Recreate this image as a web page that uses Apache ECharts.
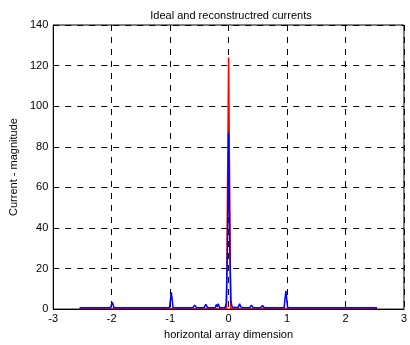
<!DOCTYPE html>
<html>
<head>
<meta charset="utf-8">
<script src="https://cdn.jsdelivr.net/npm/echarts@6/dist/echarts.min.js"></script>
<style>
  html, body { margin: 0; padding: 0; background: #fff; }
  #chart { width: 410px; height: 345px; }
</style>
</head>
<body>
<div id="chart"></div>
<script>
// Ideal current distribution (red)
const idealX = [-2.55, -0.035, 0.0, 0.035, 2.54];
const idealY = [0.3, 0.3, 124, 0.3, 0.3];

// Reconstructed current distribution (blue)
const reconX = [-2.55, -2.02, -1.99, -1.96, -1.01, -0.98, -0.95, -0.61, -0.58, -0.55,
                -0.42, -0.39, -0.36, -0.23, -0.21, -0.195, -0.18, -0.15, -0.06, -0.04,
                -0.02, 0.0, 0.02, 0.04, 0.06, 0.16, 0.19, 0.205, 0.22, 0.24,
                0.36, 0.39, 0.42, 0.55, 0.58, 0.61, 0.95, 0.98, 1.01, 2.54];
const reconY = [0.7, 0.7, 3.4, 0.7, 0.7, 8.3, 0.7, 0.7, 2.0, 0.7,
                0.7, 2.3, 0.7, 0.7, 2.2, 1.2, 2.6, 0.7, 0.8, 3.0,
                30, 86.6, 30, 4.0, 1.0, 0.7, 2.6, 1.2, 1.3, 0.7,
                0.7, 2.0, 0.7, 0.7, 1.8, 0.7, 0.7, 9.0, 0.7, 0.7];

const xTicks = [-3, -2, -1, 0, 1, 2, 3];
const yTicks = [0, 20, 40, 60, 80, 100, 120, 140];

const pairs = (xs, ys) => xs.map((x, i) => [x, ys[i]]);
const font = 'Liberation Sans, Arial, sans-serif';

const chart = echarts.init(document.getElementById('chart'), null, { renderer: 'canvas' });
chart.setOption({
  animation: false,
  backgroundColor: '#fff',
  title: {
    text: 'Ideal and reconstructred currents',
    left: 226, top: 5, textAlign: 'center',
    textStyle: { fontFamily: font, fontSize: 11, fontWeight: 'normal', color: '#000' }
  },
  grid: {
    left: 45, right: 3, top: 25, bottom: 34,
    show: true, borderColor: '#000', borderWidth: 1, backgroundColor: 'transparent'
  },
  xAxis: {
    type: 'value', min: xTicks[0], max: xTicks[xTicks.length - 1], interval: 1,
    name: 'horizontal array dimension', nameLocation: 'middle', nameGap: 17,
    nameTextStyle: { fontFamily: font, fontSize: 11, color: '#000' },
    axisLine: { show: true, onZero: false, lineStyle: { color: '#000', width: 1 } },
    axisTick: { show: false },
    axisLabel: { fontFamily: font, fontSize: 11, color: '#000', margin: 4 },
    splitLine: { show: true, lineStyle: { color: '#000', type: [6, 6], width: 1 } }
  },
  yAxis: {
    type: 'value', min: yTicks[0], max: yTicks[yTicks.length - 1], interval: 20,
    name: 'Current - magnitude', nameLocation: 'middle', nameGap: 31,
    nameTextStyle: { fontFamily: font, fontSize: 11, color: '#000' },
    axisLine: { show: true, onZero: false, lineStyle: { color: '#000', width: 1 } },
    axisTick: { show: false },
    axisLabel: { fontFamily: font, fontSize: 11, color: '#000', margin: 5 },
    splitLine: { show: true, lineStyle: { color: '#000', type: [6, 6], width: 1 } }
  },
  series: [
    {
      type: 'line', data: pairs(idealX, idealY), showSymbol: false,
      lineStyle: { color: '#ff0000', width: 1.5 }, z: 2
    },
    {
      type: 'line', data: pairs(reconX, reconY), showSymbol: false,
      lineStyle: { color: '#0000ff', width: 1.5 }, z: 3
    }
  ]
});
</script>
</body>
</html>
